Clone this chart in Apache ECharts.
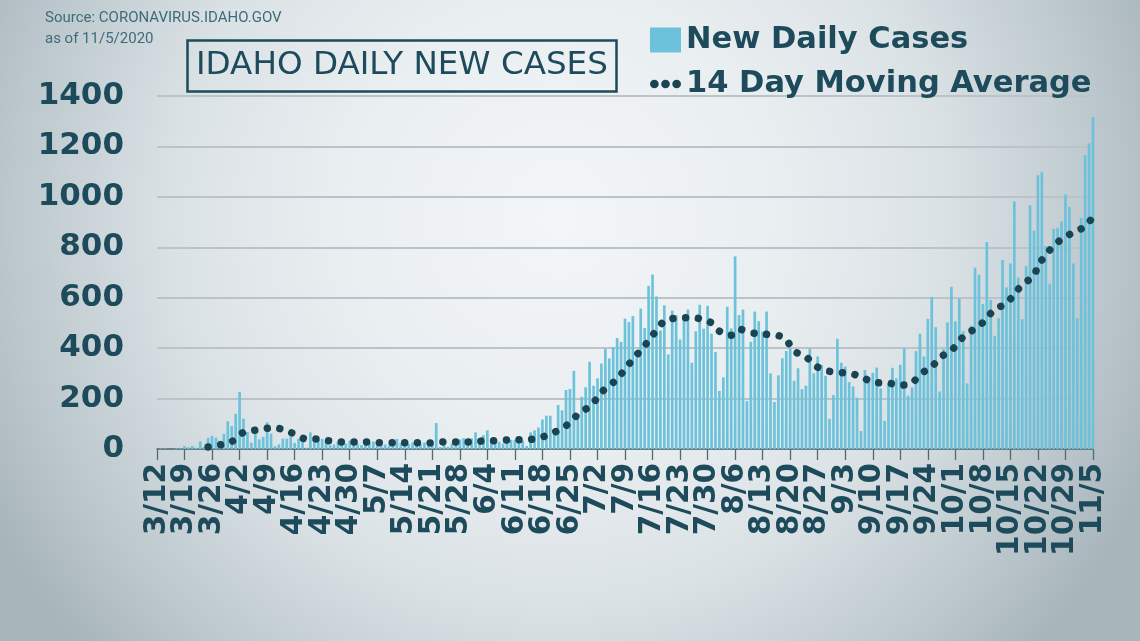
<!DOCTYPE html>
<html><head><meta charset="utf-8">
<script src="https://cdn.jsdelivr.net/npm/echarts@6/dist/echarts.min.js"></script>
<style>html,body{margin:0;padding:0;width:1140px;height:641px;overflow:hidden}#c{width:1140px;height:641px}</style>
</head><body><div id="c"></div><script>
// ---- data ----
const START_MONTH = 3, START_DAY = 12;            // first category: 3/12
const MONTH_LENGTHS = {3:31,4:30,5:31,6:30,7:31,8:31,9:30,10:31,11:30};
const DAY_COUNT = 239;                              // 3/12 .. 11/5

const marValues = [0,2,2,0,0,3,3,12,7,12,5,30,8,44,52,45,33,60,110,91];
const aprValues = [140,226,120,67,25,66,38,48,106,61,11,18,41,41,49,24,40,35,5,66,26,36,40,28,15,18,29,29,22,33];
const mayValues = [31,21,16,32,24,29,16,26,18,13,29,40,24,26,20,26,29,20,26,18,20,103,8,18,9,22,26,38,43,26,42];
const junValues = [66,18,55,74,36,26,29,22,26,36,36,35,33,12,66,74,85,117,132,132,65,174,153,234,238,310,130,207,245,346];
const julValues = [251,280,339,397,359,404,440,425,517,503,527,375,557,480,647,692,605,470,570,375,549,531,434,529,553,342,467,572,477,568,458];
const augValues = [385,230,284,564,478,764,531,553,190,425,545,507,465,545,300,186,292,360,389,400,270,320,237,251,399,300,367,333,290,120,214];
const sepValues = [437,342,327,265,248,203,71,313,280,302,323,240,112,260,322,280,334,399,211,244,388,457,367,516,603,483,228,396,502,643];
const octValues = [506,597,467,260,489,719,691,575,821,591,449,518,749,641,736,982,680,515,725,966,866,1086,1100,805,655,873,877,903,1009,960,736];
const novValues = [518,917,1165,1212,1317];

// 14 day moving average, read at points along the dotted curve (day index from 3/12)
const maDays   = [13,17,20,22,25,29,32,35,38,41,44,47,51,54,57,61,64,67,70,73,77,80,83,86,90,93,96,99,102,105,107,110,112,114,117,119,121,123,125,127,129,132,135,138,141,143,146,148,151,155,158,160,162,165,167,170,173,177,180,182,186,189,192,194,197,199,202,204,206,209,211,213,216,218,220,223,224,226,228,231,233,236,238];
const maValues = [8,20,38,66,75,83,78,59,40,39,32,28,28,28,25,25,25,25,24,28,28,28,32,33,36,37,40,53,74,104,137,169,203,240,277,317,355,392,429,471,506,519,521,517,500,467,451,475,461,455,450,432,389,366,334,312,304,297,279,264,261,253,263,296,326,362,391,429,457,487,520,553,578,615,651,688,729,767,807,841,859,883,923];

const Y_MIN = 0, Y_MAX = 1400, Y_STEP = 200;
const TICK_EVERY = 7;

// ---- build ----
const categories = [];
{ let m = START_MONTH, d = START_DAY;
  for (let i = 0; i < DAY_COUNT; i++) {
    categories.push(m + '/' + d);
    d++; if (d > MONTH_LENGTHS[m]) { d = 1; m++; }
  } }
const dailyValues = [].concat(marValues,aprValues,mayValues,junValues,julValues,augValues,sepValues,octValues,novValues);
const maData = categories.map(() => null);
maDays.forEach((d, k) => { maData[d] = maValues[k]; });

const TEXT = '#1d4b5b';
const DOT = '#1a4452';
const BAR = '#6cc2da';

const chart = echarts.init(document.getElementById('c'), null, {renderer:'canvas'});
chart.setOption({
  animation: false,
  backgroundColor: {type:'radial', x:0.49, y:0.34, r:1, colorStops:[
    {offset:0, color:'#f3f6f8'},{offset:0.35, color:'#e9eef0'},{offset:0.6, color:'#dbe2e6'},
    {offset:0.85, color:'#bcc8cd'},{offset:1, color:'#a8b5bb'}]},
  title: [
    {text:'IDAHO DAILY NEW CASES', left:187, top:40, padding:[8,9],
     borderColor:TEXT, borderWidth:2.5,
     textStyle:{fontFamily:'DejaVu Sans', fontWeight:'normal', fontSize:32.6, lineHeight:36, color:TEXT}},
    {text:'Source: CORONAVIRUS.IDAHO.GOV\nas of 11/5/2020', left:45, top:8, padding:0,
     textStyle:{fontFamily:'Roboto', fontWeight:'normal', fontSize:15, lineHeight:21, color:'#3e6b79'}}
  ],
  legend: {
    orient:'vertical', left:650, top:23, padding:0, itemWidth:31, itemHeight:25, itemGap:10,
    textStyle:{fontFamily:'DejaVu Sans', fontWeight:'bold', fontSize:30.5, lineHeight:34, color:TEXT},
    data:[
      {name:'New Daily Cases', icon:'rect'},
      {name:'14 Day Moving Average', icon:'path://M0,4.5a4.5,4.5 0 1,0 9,0a4.5,4.5 0 1,0 -9,0zM11.5,4.5a4.5,4.5 0 1,0 9,0a4.5,4.5 0 1,0 -9,0zM23,4.5a4.5,4.5 0 1,0 9,0a4.5,4.5 0 1,0 -9,0z'}
    ]
  },
  grid: {left:157, right:47, top:96, bottom:192},
  xAxis: {
    type:'category', data:categories, boundaryGap:false,
    axisLine:{show:true, lineStyle:{color:'#56676e', width:1.5}},
    axisTick:{show:true, interval:TICK_EVERY-1, length:11, lineStyle:{color:'#56676e', width:1.3}},
    axisLabel:{interval:0, rotate:90, margin:14, hideOverlap:false,
               formatter:(v, idx) => (idx % TICK_EVERY === 0 ? v : ''),
               fontFamily:'DejaVu Sans', fontWeight:'bold', fontSize:29.5, lineHeight:18, color:TEXT},
    splitLine:{show:false}
  },
  yAxis: {
    type:'value', min:Y_MIN, max:Y_MAX, interval:Y_STEP,
    axisLine:{show:false}, axisTick:{show:false},
    axisLabel:{margin:33, fontFamily:'DejaVu Sans', fontWeight:'bold', fontSize:31, color:TEXT,
               formatter: v => String(v)},
    splitLine:{lineStyle:{color:'#bcc3c8', width:2}}
  },
  series: [
    {name:'New Daily Cases', type:'bar', data:dailyValues, barWidth:'68%', clip:false,
     itemStyle:{color:BAR}},
    {name:'14 Day Moving Average', type:'line', data:maData, connectNulls:true, smooth:0.4,
     symbol:'none', itemStyle:{color:DOT},
     lineStyle:{color:DOT, width:7.5, type:[0.01,12.7], cap:'round'}, z:3}
  ]
});
</script></body></html>
